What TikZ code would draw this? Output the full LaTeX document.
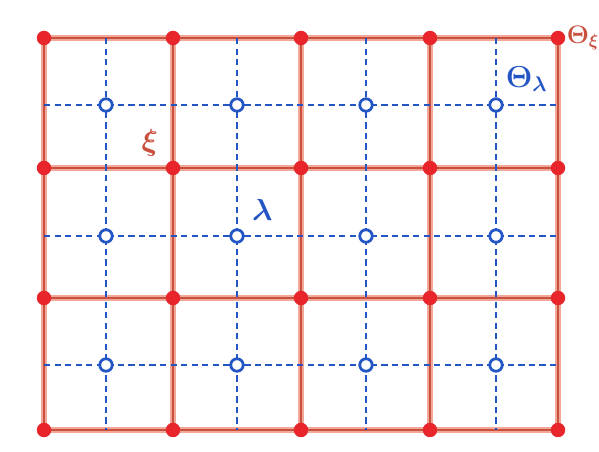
\documentclass[tikz,border=0pt]{standalone}
\usepackage{xcolor}
\usepackage{tikz}
\usetikzlibrary{positioning}
\definecolor{gridred}{HTML}{C9503F}
\definecolor{halo}{HTML}{F2A898}
\definecolor{dotred}{HTML}{E8252A}
\definecolor{dualblue}{HTML}{2356C4}

\begin{document}
\begin{tikzpicture}[x=0.02cm, y=-0.02cm,
  vertex/.style={circle, fill=dotred, inner sep=0pt, minimum size=0.29cm},
  site/.style={circle, draw=dualblue, fill=white, line width=1.6pt, inner sep=0pt, minimum size=0.25cm},
  edge/.style={draw=halo, line width=3.2pt, postaction={draw=gridred, line width=0.8pt}},
  dual/.style={draw=dualblue, line width=1.2pt, dash pattern=on 3.6pt off 2.4pt},
  lbl/.style={font=\LARGE\boldmath}
]
\useasboundingbox (0,0) rectangle (599,452);
% primal lattice
\foreach \i/\x in {0/44,1/173,2/301,3/430,4/558}
  \foreach \j/\y in {0/38,1/168,2/298,3/430}
    \coordinate (p-\i-\j) at (\x,\y);
\foreach \j in {0,1,2,3}
  \draw[edge] (p-0-\j) -- (p-4-\j);
\foreach \i in {0,1,2,3,4}
  \draw[edge] (p-\i-0) -- (p-\i-3);
% dual lattice
\foreach \j/\y in {0/105,1/236,2/365}{
  \coordinate (dl-\j) at (44,\y);
  \coordinate (dr-\j) at (558,\y);
  \draw[dual] (dl-\j) -- (dr-\j);
}
\foreach \i/\x in {0/106,1/237,2/366,3/496}{
  \coordinate (dt-\i) at (\x,38);
  \coordinate (db-\i) at (\x,430);
  \draw[dual] (dt-\i) -- (db-\i);
}
\foreach \i/\x in {0/106,1/237,2/366,3/496}
  \foreach \j/\y in {0/105,1/236,2/365}
    \node[site] (c-\i-\j) at (\x,\y) {};
\foreach \i in {0,1,2,3,4}
  \foreach \j in {0,1,2,3}
    \node[vertex] (v-\i-\j) at (p-\i-\j) {};
% labels
\node[lbl, text=gridred, above left=0pt and 2pt of v-1-1] (xi) {$\xi$};
\node[lbl, text=dualblue, above right=2pt and 2pt of c-1-1] (lam) {$\lambda$};
\node[lbl, text=dualblue, above right=1pt and -1pt of c-3-0] (thlam) {$\Theta_\lambda$};
\node[font=\Large\boldmath, text=gridred, inner sep=0pt, right=0.5pt of v-4-0] (thxi) {$\Theta_\xi$};
\end{tikzpicture}
\end{document}
